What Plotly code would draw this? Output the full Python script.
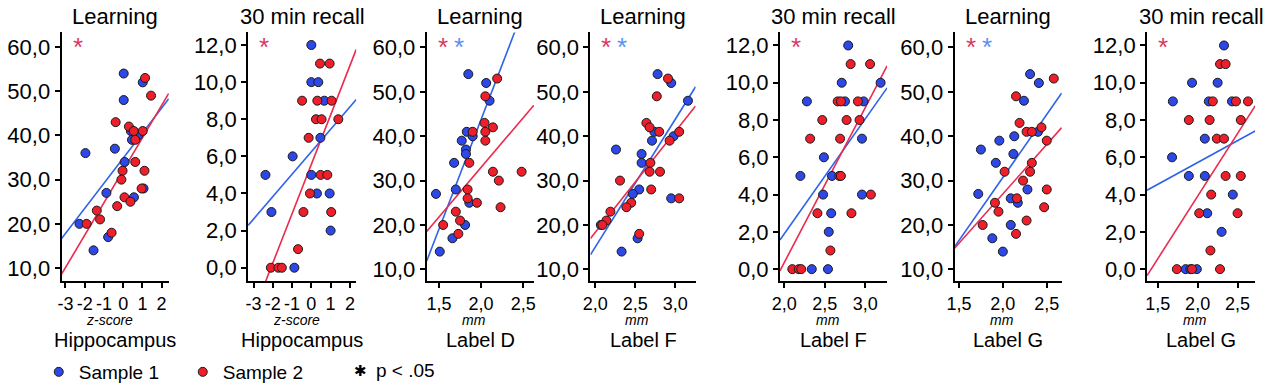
import plotly.graph_objects as go

# ---------------- data ----------------
titles = ["Learning", "30 min recall", "Learning", "Learning", "30 min recall", "Learning", "30 min recall"]
regions = ["Hippocampus", "Hippocampus", "Label D", "Label F", "Label F", "Label G", "Label G"]
units = ["z-score", "z-score", "mm", "mm", "mm", "mm", "mm"]
significant = [["Sample 2"], ["Sample 2"], ["Sample 2", "Sample 1"], ["Sample 2", "Sample 1"],
               ["Sample 2"], ["Sample 2", "Sample 1"], ["Sample 2"]]

# panel 1: Hippocampus (z-score) vs Learning
p1_s1_x = [0.03, 0.03, 1.02, -1.96, -0.43, 0.08, 0.40, 0.46, 0.78, -0.87, 0.56, 1.06, -2.27, -1.54, -0.78]
p1_s1_y = [54, 48, 52, 36, 37, 34, 41, 39, 40, 27, 26, 28, 20, 14, 17]
p1_s2_x = [1.14, 1.45, -0.39, 0.30, 0.55, 1.02, 0.63, 0.63, 1.11, -0.03, -0.09, 0.96, 0.07, 0.38, -0.31, -1.37, -1.2, -1.9, -0.6]
p1_s2_y = [53, 49, 43, 42, 41, 41, 39, 34, 32, 32, 30, 28, 26, 25, 24, 23, 21, 20, 18]
# panel 2: Hippocampus (z-score) vs 30 min recall
p2_s1_x = [0.0, 0.0, 0.36, 0.67, 0.47, -0.97, -2.38, 0.0, 0.29, 0.95, -2.07, 1.0, -0.88]
p2_s1_y = [12, 10, 10, 9, 7, 6, 5, 5, 4, 4, 3, 2, 0]
p2_s2_x = [0.45, 0.95, -0.48, 0.31, 1.05, 0.24, 0.53, 1.4, -0.14, 0.48, 0.83, -0.07, -0.41, 1.03, -0.69, -2.1, -1.71, -1.53]
p2_s2_y = [11, 11, 9, 9, 9, 8, 8, 8, 7, 5, 5, 4, 3, 3, 1, 0, 0, 0]
# panel 3: Label D (mm) vs Learning
p3_s1_x = [1.848, 2.06, 2.1, 1.83, 1.9, 1.77, 1.82, 1.82, 1.68, 1.70, 1.86, 1.465, 1.81, 1.66, 1.51]
p3_s1_y = [54, 52, 48, 41, 40, 39, 37, 36, 34, 28, 25, 27, 20, 17, 14]
p3_s2_x = [2.19, 2.05, 2.04, 2.14, 2.05, 1.9, 2.05, 1.86, 2.14, 2.48, 2.21, 1.84, 1.84, 1.95, 2.23, 1.70, 1.75, 1.55, 1.73]
p3_s2_y = [53, 49, 43, 42, 41, 41, 39, 34, 32, 32, 30, 28, 26, 25, 24, 23, 21, 20, 18]
# panel 4: Label F (mm) vs Learning
p4_s1_x = [2.78, 2.95, 3.16, 2.74, 2.98, 2.71, 2.26, 2.58, 2.58, 2.55, 2.47, 2.95, 2.07, 2.53, 2.33]
p4_s1_y = [54, 52, 48, 41, 40, 39, 37, 36, 34, 28, 27, 26, 20, 17, 14]
p4_s2_x = [2.91, 2.77, 2.64, 2.68, 2.8, 3.05, 2.93, 2.69, 2.68, 2.81, 2.31, 2.70, 3.05, 2.45, 2.39, 2.19, 2.14, 2.09, 2.55]
p4_s2_y = [53, 49, 43, 42, 41, 41, 39, 34, 32, 32, 30, 28, 26, 25, 24, 23, 21, 20, 18]
# panel 5: Label F (mm) vs 30 min recall
p5_s1_x = [2.79, 2.71, 3.19, 2.28, 2.75, 2.98, 2.96, 2.49, 2.2, 2.59, 2.48, 2.96, 2.58, 2.55, 2.34, 2.54]
p5_s1_y = [12, 10, 10, 9, 9, 9, 7, 6, 5, 5, 4, 4, 3, 2, 0, 0]
p5_s2_x = [2.82, 3.06, 2.66, 2.70, 2.91, 2.47, 2.77, 2.93, 2.32, 2.69, 2.68, 2.70, 3.07, 2.41, 2.83, 2.57, 2.1, 2.18, 2.21]
p5_s2_y = [11, 11, 9, 9, 9, 8, 8, 8, 7, 7, 5, 5, 4, 3, 3, 1, 0, 0, 0]
# panel 6: Label G (mm) vs Learning
p6_s1_x = [2.31, 2.41, 2.24, 2.40, 2.13, 1.96, 1.75, 2.12, 1.92, 2.28, 1.72, 2.09, 2.17, 2.09, 1.88, 2.0]
p6_s1_y = [54, 52, 48, 41, 40, 39, 37, 36, 34, 28, 27, 26, 25, 20, 17, 14]
p6_s2_x = [2.58, 2.15, 2.19, 2.44, 2.27, 2.33, 2.5, 2.33, 2.31, 2.02, 2.23, 2.5, 2.16, 1.91, 2.47, 1.95, 2.27, 1.77, 2.15]
p6_s2_y = [53, 49, 43, 42, 41, 41, 39, 34, 32, 32, 30, 28, 26, 25, 24, 23, 21, 20, 18]
# panel 7: Label G (mm) vs 30 min recall
p7_s1_x = [2.33, 1.93, 2.25, 1.69, 2.14, 2.43, 2.09, 1.68, 1.89, 2.09, 2.44, 2.12, 2.3, 1.85, 1.91, 1.99]
p7_s1_y = [12, 10, 10, 9, 9, 9, 7, 6, 5, 5, 4, 3, 2, 0, 0, 0]
p7_s2_x = [2.28, 2.35, 2.19, 2.48, 2.63, 1.89, 2.15, 2.54, 2.24, 2.33, 2.35, 2.54, 2.17, 2.02, 2.5, 2.16, 1.74, 1.93, 2.28]
p7_s2_y = [11, 11, 9, 9, 9, 8, 8, 8, 7, 7, 5, 5, 4, 3, 3, 1, 0, 0, 0]

# fitted regression lines: (intercept, slope) per panel
fit_s1 = [(34.85, 5.68), (6.25, 1.21), (-55.2, 49.5), (-42.6, 28.8), (-10.45, 6.17), (-26.1, 28.4), (1.02, 2.35)]
fit_s2 = [(32.1, 7.34), (5.57, 2.66), (-11.8, 22.4), (-27.1, 22.7), (-16.27, 8.31), (-17.6, 22.3), (-9.55, 6.73)]

# tick values / labels
z_ticks = [-3, -2, -1, 0, 1, 2]
z_labels = ["-3", "-2", "-1", "0", "1", "2"]
mm_ticks_a = [1.5, 2.0, 2.5]
mm_labels_a = ["1,5", "2,0", "2,5"]
mm_ticks_b = [2.0, 2.5, 3.0]
mm_labels_b = ["2,0", "2,5", "3,0"]
learn_ticks = [10, 20, 30, 40, 50, 60]
learn_labels = ["10,0", "20,0", "30,0", "40,0", "50,0", "60,0"]
recall_ticks = [0, 2, 4, 6, 8, 10, 12]
recall_labels = ["0,0", "2,0", "4,0", "6,0", "8,0", "10,0", "12,0"]

series_x1 = [p1_s1_x, p2_s1_x, p3_s1_x, p4_s1_x, p5_s1_x, p6_s1_x, p7_s1_x]
series_y1 = [p1_s1_y, p2_s1_y, p3_s1_y, p4_s1_y, p5_s1_y, p6_s1_y, p7_s1_y]
series_x2 = [p1_s2_x, p2_s2_x, p3_s2_x, p4_s2_x, p5_s2_x, p6_s2_x, p7_s2_x]
series_y2 = [p1_s2_y, p2_s2_y, p3_s2_y, p4_s2_y, p5_s2_y, p6_s2_y, p7_s2_y]
x_ticks = [(z_ticks, z_labels), (z_ticks, z_labels), (mm_ticks_a, mm_labels_a), (mm_ticks_b, mm_labels_b),
           (mm_ticks_b, mm_labels_b), (mm_ticks_a, mm_labels_a), (mm_ticks_a, mm_labels_a)]
y_ticks = [(learn_ticks, learn_labels), (recall_ticks, recall_labels), (learn_ticks, learn_labels),
           (learn_ticks, learn_labels), (recall_ticks, recall_labels), (learn_ticks, learn_labels),
           (recall_ticks, recall_labels)]

# ---------------- layout / style ----------------
W, H = 1280, 391
px_domains = [(54, 162), (242, 351), (422, 530), (587, 693), (778, 886), (954, 1062), (1148, 1257)]
x_ranges = [(-3.2, 2.37), (-3.28, 2.33), (1.355, 2.625), (1.94, 3.255), (1.947, 3.27), (1.45, 2.67), (1.367, 2.72)]
y_ranges = [(7.1, 63.3), (-0.71, 12.68), (7.4, 63.4), (7.4, 63.4), (-0.63, 12.7), (7.4, 63.4), (-0.63, 12.7)]
y_dom = [1 - 286 / H, 1 - 33 / H]

FONT = "Liberation Sans, Arial, sans-serif"
BLUE = "#2d48e6"
RED = "#ee1f2b"
BLUE_LINE = "#2f63ea"
RED_LINE = "#ea2a4e"
STAR_COL = {"Sample 1": "#5b8ff0", "Sample 2": "#d63a63"}
COLORS = {"Sample 1": BLUE, "Sample 2": RED}
LINE_COLORS = {"Sample 1": BLUE_LINE, "Sample 2": RED_LINE}

fig = go.Figure()
annotations = []
layout_axes = {}

for i in range(7):
    n = "" if i == 0 else str(i + 1)
    xa, ya = "x" + n, "y" + n
    x0, x1 = x_ranges[i]
    # regression lines
    for name, fits in (("Sample 1", fit_s1), ("Sample 2", fit_s2)):
        a, b = fits[i]
        fig.add_trace(go.Scatter(x=[x0, x1], y=[a + b * x0, a + b * x1], mode="lines",
                                 line=dict(color=LINE_COLORS[name], width=1.6),
                                 xaxis=xa, yaxis=ya, showlegend=False, hoverinfo="skip"))
    # points
    for name, xs, ys in (("Sample 1", series_x1[i], series_y1[i]), ("Sample 2", series_x2[i], series_y2[i])):
        fig.add_trace(go.Scatter(x=xs, y=ys, mode="markers", name=name,
                                 marker=dict(color=COLORS[name], size=9, line=dict(color="#1a1a1a", width=1)),
                                 xaxis=xa, yaxis=ya, showlegend=(i == 0), cliponaxis=False))
    d0, d1 = px_domains[i]
    layout_axes["xaxis" + n] = dict(
        domain=[d0 / W, d1 / W], range=list(x_ranges[i]), anchor=ya,
        tickvals=x_ticks[i][0], ticktext=x_ticks[i][1], tickangle=0, ticklabelstandoff=1,
        showline=True, linecolor="black", linewidth=2, ticks="outside", ticklen=5, tickwidth=1.5,
        tickcolor="black", showgrid=False, zeroline=False, tickfont=dict(size=18, color="black", family=FONT))
    layout_axes["yaxis" + n] = dict(
        domain=y_dom, range=list(y_ranges[i]), anchor=xa,
        tickvals=y_ticks[i][0], ticktext=y_ticks[i][1],
        showline=True, linecolor="black", linewidth=2, ticks="outside", ticklen=5, tickwidth=1.5,
        tickcolor="black", showgrid=False, zeroline=False, tickfont=dict(size=22, color="black", family=FONT))
    cx = (d0 + d1) / 2 / W
    annotations.append(dict(text=titles[i], x=cx, y=1 - 17 / H, xref="paper", yref="paper",
                            showarrow=False, font=dict(size=22, color="black", family=FONT),
                            xanchor="center", yanchor="middle"))
    annotations.append(dict(text="<i>" + units[i] + "</i>", x=cx, xshift=-6, y=1 - 326 / H, xref="paper",
                            yref="paper", showarrow=False, font=dict(size=14, color="black", family=FONT),
                            xanchor="center", yanchor="middle"))
    annotations.append(dict(text=regions[i], x=cx, y=1 - 346 / H, xref="paper", yref="paper",
                            showarrow=False, font=dict(size=20, color="black", family=FONT),
                            xanchor="center", yanchor="middle"))
    for k, s in enumerate(significant[i]):
        annotations.append(dict(text="*", x=0, xshift=16 + 16 * k, y=1, yshift=2,
                                xref=xa + " domain", yref=ya + " domain", showarrow=False,
                                font=dict(size=26, color=STAR_COL[s], family=FONT),
                                xanchor="center", yanchor="top"))

annotations.append(dict(text="\u2731", x=355 / W, y=1 - 378 / H, xref="paper", yref="paper", showarrow=False,
                        font=dict(size=15, color="black", family="DejaVu Sans"), xanchor="center", yanchor="middle"))
annotations.append(dict(text="p < .05", x=369 / W, y=1 - 377 / H, xref="paper", yref="paper", showarrow=False,
                        font=dict(size=19, color="black", family=FONT), xanchor="left", yanchor="middle"))

fig.update_layout(
    width=W, height=H, margin=dict(l=0, r=0, t=0, b=0),
    paper_bgcolor="white", plot_bgcolor="white",
    showlegend=True,
    legend=dict(orientation="h", x=31 / W, y=1 - 379 / H, xanchor="left", yanchor="middle",
                font=dict(size=19, color="black", family=FONT), entrywidth=99, bgcolor="rgba(0,0,0,0)",
                itemwidth=30, tracegroupgap=0),
    annotations=annotations,
    **layout_axes,
)

fig.write_html("out.html", config={"displayModeBar": False},
               post_script="document.body.style.margin='0px';document.body.style.padding='0px';")
